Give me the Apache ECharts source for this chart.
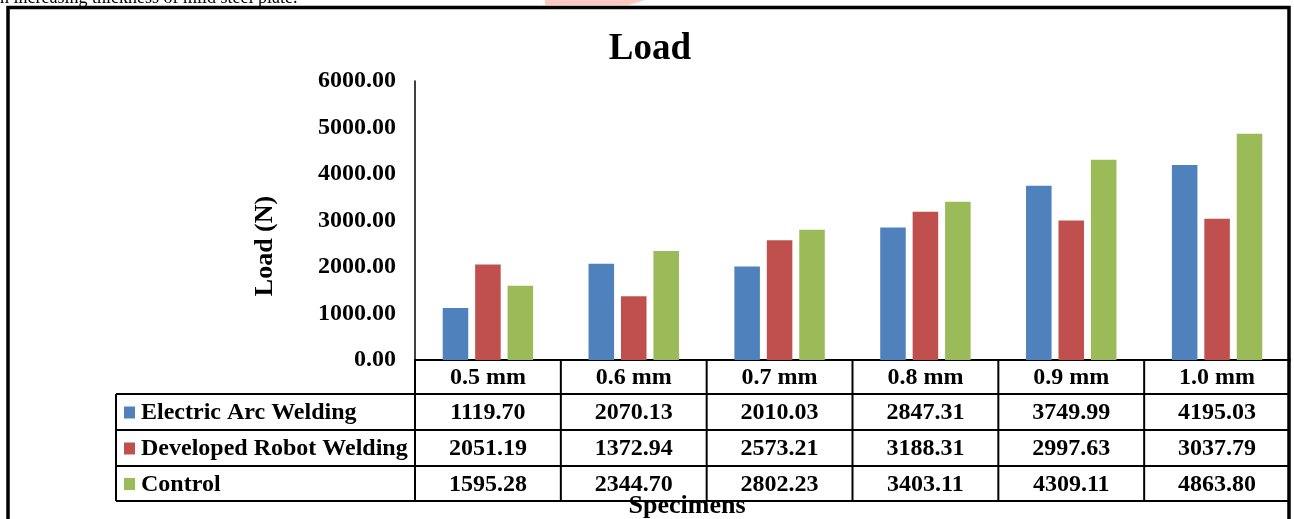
<!DOCTYPE html>
<html>
<head>
<meta charset="utf-8">
<script src="https://cdn.jsdelivr.net/npm/echarts@6/dist/echarts.min.js"></script>
<style>
  html, body { margin: 0; padding: 0; background: #ffffff; overflow: hidden; }
  #chart { width: 1294px; height: 519px; }
</style>
</head>
<body>
<div id="chart"></div>
<script>
// Specimen thicknesses and measured load (N) per welding method
const categories = ['0.5 mm', '0.6 mm', '0.7 mm', '0.8 mm', '0.9 mm', '1.0 mm'];
const seriesNames = ['Electric Arc Welding', 'Developed Robot Welding', 'Control'];
const electricArc = [1119.70, 2070.13, 2010.03, 2847.31, 3749.99, 4195.03];
const robotWelding = [2051.19, 1372.94, 2573.21, 3188.31, 2997.63, 3037.79];
const control = [1595.28, 2344.70, 2802.23, 3403.11, 4309.11, 4863.80];
const yMin = 0, yMax = 6000, yStep = 1000;

const seriesData = [electricArc, robotWelding, control];
const colors = ['#4F81BD', '#C0504D', '#9BBB59'];
const FONT = '"Liberation Serif", "Times New Roman", serif';
const LABEL_SIZE = 24;

// Layout of the plot area and the data table beneath it
const grid = { left: 415, top: 81, right: 4, bottom: 159 };
const tableLeft = 116;
const headerBottom = 394;
const rowBottoms = [430, 466, 501];

const chart = echarts.init(document.getElementById('chart'), null, { renderer: 'canvas' });

chart.setOption({
  animation: false,
  backgroundColor: '#ffffff',
  grid: grid,
  xAxis: {
    type: 'category',
    data: categories,
    axisLine: { show: true, lineStyle: { color: '#000', width: 2 } },
    axisTick: { show: false },
    axisLabel: {
      margin: 6,
      fontFamily: FONT, fontWeight: 'bold', fontSize: LABEL_SIZE, color: '#000'
    },
    splitLine: { show: false }
  },
  yAxis: {
    type: 'value',
    min: yMin,
    max: yMax,
    interval: yStep,
    axisLine: { show: true, lineStyle: { color: '#000', width: 1.5 } },
    axisTick: { show: false },
    splitLine: { show: false },
    axisLabel: {
      margin: 19,
      formatter: v => v.toFixed(2),
      fontFamily: FONT, fontWeight: 'bold', fontSize: LABEL_SIZE, color: '#000'
    }
  },
  series: seriesNames.map((name, i) => ({
    name: name,
    type: 'bar',
    data: seriesData[i],
    barGap: '27%',
    barCategoryGap: '38%',
    itemStyle: { color: colors[i] }
  }))
});

// Data table, titles, frame and caption drawn as graphics
function buildGraphics() {
  const gridLeft = grid.left;
  const gridRight = 1294 - grid.right;
  const axisY = chart.convertToPixel({ yAxisIndex: 0 }, 0);
  const centers = categories.map(c => chart.convertToPixel({ xAxisIndex: 0 }, c));
  const catW = (gridRight - gridLeft) / categories.length;
  const els = [];
  const line = (x1, y1, x2, y2, w) => els.push({
    type: 'line', silent: true,
    shape: { x1, y1, x2, y2 },
    style: { stroke: '#000', lineWidth: w || 2 }
  });
  const text = (t, x, y, opts) => els.push(Object.assign({
    type: 'text', silent: true,
    style: Object.assign({
      text: t, x, y, align: 'center', verticalAlign: 'middle',
      font: 'bold ' + LABEL_SIZE + 'px ' + FONT, fill: '#000'
    }, opts || {})
  }));

  // page caption above the chart frame
  text('n increasing thickness of mild steel plate.', 0, -1.5,
       { align: 'left', font: '18px ' + FONT });
  // faint red mark at the top edge
  els.push({
    type: 'polygon', silent: true,
    shape: { points: [[545, 0], [645, 0], [628, 5], [545, 5]] },
    style: { fill: 'rgba(250, 175, 165, 0.55)', shadowBlur: 3, shadowColor: 'rgba(250, 175, 165, 0.6)' }
  });

  // chart frame
  els.push({
    type: 'rect', silent: true,
    shape: { x: 8, y: 7.5, width: 1281, height: 530 },
    style: { fill: null, stroke: '#000', lineWidth: 3.5 }
  });

  // chart title
  text('Load', 650, 49, { font: 'bold 37px ' + FONT });

  // table grid lines
  const tableBottom = rowBottoms[rowBottoms.length - 1];
  line(tableLeft, headerBottom, gridRight, headerBottom);
  rowBottoms.forEach(y => line(tableLeft, y, gridRight, y));
  line(tableLeft, headerBottom, tableLeft, tableBottom);
  line(gridLeft, axisY, gridLeft, tableBottom);
  for (let i = 1; i < categories.length; i++) {
    const x = gridLeft + i * catW;
    line(x, axisY, x, tableBottom);
  }

  // table rows: legend key, series name, values
  let top = headerBottom;
  seriesNames.forEach((name, r) => {
    const mid = (top + rowBottoms[r]) / 2;
    els.push({
      type: 'rect', silent: true,
      shape: { x: 124, y: mid - 5.5, width: 11, height: 12 },
      style: { fill: colors[r] }
    });
    text(name, 141, mid + 1, { align: 'left' });
    seriesData[r].forEach((v, c) => text(v.toFixed(2), centers[c], mid + 1));
    top = rowBottoms[r];
  });

  // axis titles
  els.push({
    type: 'text', silent: true,
    x: 265, y: 246, rotation: Math.PI / 2,
    style: {
      text: 'Load (N)', x: 0, y: 0, align: 'center', verticalAlign: 'middle',
      font: 'bold 26px ' + FONT, fill: '#000'
    }
  });
  text('Specimens', 687, 506, { font: 'bold 26px ' + FONT });

  chart.setOption({ graphic: { elements: els } });
}
buildGraphics();
</script>
</body>
</html>
